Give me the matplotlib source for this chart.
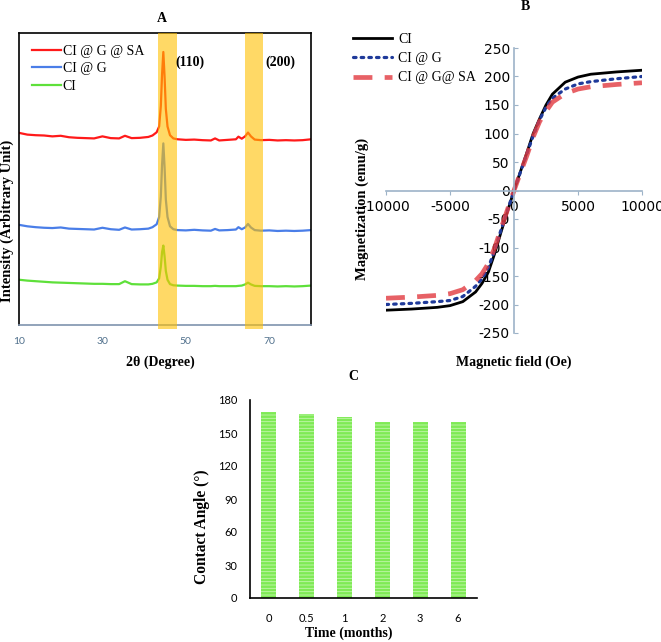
import matplotlib
matplotlib.use("Agg")
import matplotlib.pyplot as plt
from matplotlib.transforms import ScaledTranslation

plt.rcParams['hatch.linewidth'] = 0.6

# ---------------- Data ----------------
# Panel A: XRD patterns (offset, arbitrary units)
two_theta = [10, 12, 14, 16, 18, 20, 22, 24, 26, 28, 30, 32, 34, 35.4, 37, 39, 41, 42, 43, 43.6,
             44.0, 44.3, 44.6, 44.9, 45.2, 45.6, 46.2, 47, 48, 50, 52, 54, 56, 57, 58, 60, 62, 62.6,
             63.4, 64.2, 64.9, 65.6, 66.5, 68, 70, 72, 74, 76, 78, 80]
xrd_ci_g_sa = [65.8, 65.2, 65.0, 64.9, 64.6, 64.8, 64.3, 64.1, 64.0, 63.9, 64.6, 64.0, 63.9, 64.8, 64.0,
               64.1, 64.4, 64.9, 66.0, 68.0, 75.0, 86.0, 93.5, 85.0, 74.0, 68.0, 65.0, 63.9, 63.6, 63.4,
               63.5, 63.3, 63.2, 63.9, 63.2, 63.4, 63.6, 64.5, 63.8, 64.6, 65.9, 64.6, 63.5, 63.3, 63.4,
               63.2, 63.3, 63.2, 63.3, 63.6]
xrd_ci_g = [34.3, 33.8, 33.5, 33.3, 33.2, 33.4, 33.0, 32.9, 32.8, 32.7, 33.3, 32.8, 32.6, 33.4, 32.7,
            32.8, 33.0, 33.5, 34.5, 37.0, 44.0, 55.0, 62.2, 54.0, 43.0, 37.0, 33.8, 32.8, 32.5, 32.4,
            32.6, 32.4, 32.3, 32.9, 32.4, 32.5, 32.7, 33.5, 32.8, 33.4, 34.6, 33.4, 32.5, 32.3, 32.4,
            32.2, 32.3, 32.2, 32.3, 32.5]
xrd_ci = [15.5, 15.2, 15.0, 14.8, 14.6, 14.5, 14.4, 14.3, 14.2, 14.1, 14.1, 14.0, 14.0, 15.0, 14.0,
          13.9, 13.9, 14.1, 14.6, 16.0, 20.0, 25.0, 27.2, 23.5, 18.5, 15.5, 14.0, 13.6, 13.5, 13.4,
          13.4, 13.3, 13.3, 13.4, 13.3, 13.3, 13.3, 13.4, 13.5, 13.9, 14.5, 13.9, 13.4, 13.3, 13.3,
          13.2, 13.3, 13.2, 13.3, 13.5]
xrd_labels = ["CI @ G @ SA", "CI @ G", "CI"]
peak_bands = [(43.3, 47.9), (64.2, 68.5)]
peak_names = ["(110)", "(200)"]
xrd_ticks = [10, 30, 50, 70]

# Panel B: magnetization curves
field = [-10000, -8000, -6000, -5000, -4000, -3000, -2500, -2000, -1500, -1000, -500, 0,
         500, 1000, 1500, 2000, 2500, 3000, 4000, 5000, 6000, 8000, 10000]
mag_ci = [-210, -208, -205, -202, -195, -178, -163, -143, -110, -72, -36, 0,
          33, 66, 100, 126, 150, 169, 190, 199, 204, 208, 211]
mag_ci_g = [-200, -198, -195, -193, -186, -168, -155, -135, -104, -68, -34, 0,
            32, 64, 96, 124, 146, 162, 178, 187, 191, 196, 200]
mag_ci_g_sa = [-189, -187, -184, -181, -174, -158, -146, -128, -100, -66, -33, 0,
               31, 61, 94, 121, 139, 155, 170, 178, 182, 186, 189]
mag_labels = ["CI", "CI @ G", "CI @ G@ SA"]

# Panel C: contact angle over time
time_labels = ["0", "0.5", "1", "2", "3", "6"]
contact_angle = [169, 167, 165, 160, 160, 160]

# ---------------- Figure ----------------
W, H = 661, 642
fig = plt.figure(figsize=(W / 100, H / 100), dpi=100)

def ax_rect(l, t, r, b):
    return [l / W, 1 - b / H, (r - l) / W, (b - t) / H]

serif = "Liberation Serif"
sans = "Lato"

# ----- Panel A -----
axA = fig.add_axes(ax_rect(19, 33, 311, 325))
axA.plot(two_theta, xrd_ci_g_sa, color="#FF1A1A", lw=1.6, label=xrd_labels[0], zorder=2)
axA.plot(two_theta, xrd_ci_g, color="#4A7EE8", lw=1.6, label=xrd_labels[1], zorder=2)
axA.plot(two_theta, xrd_ci, color="#5EE03A", lw=1.6, label=xrd_labels[2], zorder=2)
for (lo, hi) in peak_bands:
    axA.axvspan(lo, hi, ymin=-0.012, ymax=1.0, color="#FFC000", alpha=0.6, lw=0,
                zorder=3, clip_on=False)
axA.set_xlim(10, 80)
axA.set_ylim(0, 100)
axA.set_xticks(xrd_ticks)
axA.set_xticklabels([str(t) for t in xrd_ticks], family=sans, fontsize=7.5, color="#50708C")
axA.tick_params(axis="x", length=0, pad=9)
axA.set_yticks([])
for s in ["top", "left", "right"]:
    axA.spines[s].set_color("black")
    axA.spines[s].set_linewidth(1.2)
axA.spines["bottom"].set_color("#7F93AE")
axA.spines["bottom"].set_linewidth(1.2)
axA.text(51.0, 90.1, peak_names[0], family=serif, fontweight="bold", fontsize=10,
         ha="center", va="center", zorder=5)
axA.text(72.6, 90.1, peak_names[1], family=serif, fontweight="bold", fontsize=10,
         ha="center", va="center", zorder=5)
legA = axA.legend(loc="upper left", bbox_to_anchor=(32 / W, 1 - 45 / H),
                  bbox_transform=fig.transFigure, frameon=False, borderpad=0,
                  borderaxespad=0, handlelength=2.1, handletextpad=0.12,
                  labelspacing=0.31, prop={"family": serif, "size": 10})

fig.text(162 / W, 1 - 18 / H, "A", family=serif, fontweight="bold", fontsize=10,
         ha="center", va="center")
fig.text(160 / W, 1 - 362 / H, "2θ (Degree)", family=serif, fontweight="bold",
         fontsize=10, ha="center", va="center")
fig.text(7 / W, 1 - 221 / H, "Intensity (Arbitrary Unit)", family=serif,
         fontweight="bold", fontsize=10.5, ha="center", va="center", rotation=90)

# ----- Panel B -----
axB = fig.add_axes(ax_rect(386, 48, 642, 333))
axB.plot(field, mag_ci, color="black", lw=2.0, label=mag_labels[0])
axB.plot(field, mag_ci_g, color="#1F3A9A", lw=2.3, linestyle=(0, (0.8, 1.6)),
         dash_capstyle="round", label=mag_labels[1])
axB.plot(field, mag_ci_g_sa, color="#E23A40", lw=3.4, alpha=0.8,
         linestyle=(0, (4, 2.6)), label=mag_labels[2])
axB.set_xlim(-10000, 10000)
axB.set_ylim(-250, 250)
axB.set_xticks([-10000, -5000, 0, 5000, 10000])
axB.set_yticks(list(range(-250, 251, 50)))
axB.set_xticklabels(["-10000", "-5000", "0", "5000", "10000"], family=serif, fontsize=9.2)
axB.set_yticklabels([str(v) for v in range(-250, 251, 50)], family=serif, fontsize=10)
last_lbl = axB.get_xticklabels()[-1]
last_lbl.set_transform(last_lbl.get_transform() +
                       ScaledTranslation(-3 / 100, 0, fig.dpi_scale_trans))
axB.spines["left"].set_position(("data", 0))
axB.spines["bottom"].set_position(("data", 0))
axB.spines["top"].set_visible(False)
axB.spines["right"].set_visible(False)
for s in ["left", "bottom"]:
    axB.spines[s].set_color("#9DB3C8")
    axB.spines[s].set_linewidth(1.2)
axB.tick_params(axis="x", direction="out", length=3, color="#9DB3C8", pad=4)
axB.tick_params(axis="y", direction="in", length=3, color="#9DB3C8", pad=3)
axB.patch.set_alpha(0)
fig.legend(handles=axB.get_lines(), labels=mag_labels, loc="upper left",
           bbox_to_anchor=(353 / W, 1 - 33 / H), frameon=False, borderpad=0,
           borderaxespad=0, handlelength=2.8, handletextpad=0.45, labelspacing=0.45,
           prop={"family": serif, "size": 10})
fig.text(525 / W, 1 - 7 / H, "B", family=serif, fontweight="bold", fontsize=10,
         ha="center", va="center")
fig.text(514 / W, 1 - 362 / H, "Magnetic field (Oe)", family=serif, fontweight="bold",
         fontsize=10, ha="center", va="center")
fig.text(362 / W, 1 - 209 / H, "Magnetization (emu/g)", family=serif, fontweight="bold",
         fontsize=10.5, ha="center", va="center", rotation=90)

# ----- Panel C -----
axC = fig.add_axes(ax_rect(250, 400, 477, 598))
xpos = list(range(len(time_labels)))
axC.bar(xpos, contact_angle, width=0.4, color="#7FEA55", edgecolor="#C4F7AE",
        hatch="-----", lw=0)
axC.set_xlim(-0.5, len(time_labels) - 0.5)
axC.set_ylim(0, 180)
axC.set_yticks(list(range(0, 181, 30)))
axC.set_yticklabels([str(v) for v in range(0, 181, 30)], family=sans, fontsize=8)
axC.set_xticks(xpos)
axC.set_xticklabels(time_labels, family=sans, fontsize=8)
axC.tick_params(axis="both", length=0)
axC.tick_params(axis="y", pad=9)
axC.tick_params(axis="x", pad=11)
axC.spines["top"].set_visible(False)
axC.spines["right"].set_visible(False)
for s in ["left", "bottom"]:
    axC.spines[s].set_color("black")
    axC.spines[s].set_linewidth(1.2)
fig.text(353 / W, 1 - 377 / H, "C", family=serif, fontweight="bold", fontsize=10,
         ha="center", va="center")
fig.text(349 / W, 1 - 633 / H, "Time (months)", family=serif, fontweight="bold",
         fontsize=10, ha="center", va="center")
fig.text(202 / W, 1 - 527 / H, "Contact Angle (°)", family=serif, fontweight="bold",
         fontsize=11.2, ha="center", va="center", rotation=90)

fig.savefig("out.png", dpi=100)
